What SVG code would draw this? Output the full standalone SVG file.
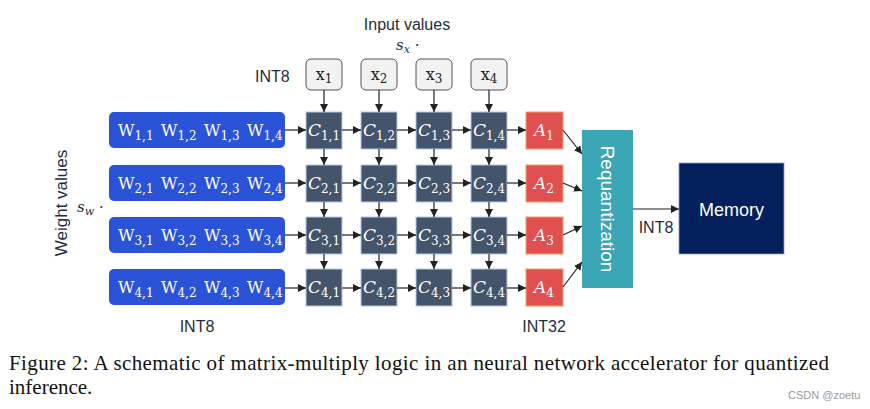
<svg xmlns="http://www.w3.org/2000/svg" width="870" height="409" viewBox="0 0 870 409">
<defs>
<marker id="ah" viewBox="0 0 8 8" refX="8" refY="4" markerWidth="8" markerHeight="8" markerUnits="userSpaceOnUse" orient="auto">
<path d="M0,0 L8,4 L0,8 z" fill="#222"/>
</marker>
<style>
.sans{font-family:"Liberation Sans","Open Sans",sans-serif;fill:#1f2d3d}
.math{font-family:"DejaVu Serif","Liberation Serif",serif;fill:#fff}
.it{font-style:italic}
.it tspan{font-style:normal}
.xbox{fill:#f2f2f2;stroke:#555;stroke-width:1}
.wbox{fill:#2a53d8}
.cbox{fill:#44546a;stroke:#b4c7e7;stroke-width:1}
.abox{fill:#e05050;stroke:#f4a060;stroke-width:1}
.conn line{stroke:#222;stroke-width:1.2;marker-end:url(#ah)}
</style>
</defs>
<rect width="870" height="409" fill="#fff"/>

<text class="sans" x="407" y="30" font-size="16" text-anchor="middle">Input values</text>
<text x="396" y="50" font-size="15" font-family="DejaVu Serif,serif" fill="#1f2d3d" font-style="italic">s<tspan dy="3" font-size="11">x</tspan><tspan dy="-3"> ·</tspan></text>
<text class="sans" x="255" y="82" font-size="16">INT8</text>
<text class="sans" x="0" y="0" font-size="17" text-anchor="middle" transform="translate(67,203) rotate(-90)">Weight values</text>
<text x="77" y="212" font-size="15" font-family="DejaVu Serif,serif" fill="#1f2d3d" font-style="italic">s<tspan dy="3" font-size="11">w</tspan><tspan dy="-3"> ·</tspan></text>
<text class="sans" x="197" y="332" font-size="16" text-anchor="middle">INT8</text>
<text class="sans" x="544" y="332" font-size="16" text-anchor="middle">INT32</text>
<text class="sans" x="656" y="233" font-size="16" text-anchor="middle">INT8</text>

<g id="x1"><rect class="xbox" x="306" y="59" width="36" height="31" rx="5"/><text x="324" y="80" font-size="16" font-family="DejaVu Serif,serif" fill="#222" text-anchor="middle">x<tspan dy="3" font-size="12">1</tspan></text></g>
<g id="x2"><rect class="xbox" x="361" y="59" width="36" height="31" rx="5"/><text x="379" y="80" font-size="16" font-family="DejaVu Serif,serif" fill="#222" text-anchor="middle">x<tspan dy="3" font-size="12">2</tspan></text></g>
<g id="x3"><rect class="xbox" x="416" y="59" width="36" height="31" rx="5"/><text x="434" y="80" font-size="16" font-family="DejaVu Serif,serif" fill="#222" text-anchor="middle">x<tspan dy="3" font-size="12">3</tspan></text></g>
<g id="x4"><rect class="xbox" x="471" y="59" width="36" height="31" rx="5"/><text x="489" y="80" font-size="16" font-family="DejaVu Serif,serif" fill="#222" text-anchor="middle">x<tspan dy="3" font-size="12">4</tspan></text></g>

<g id="w1"><rect class="wbox" x="109" y="112" width="176" height="36" rx="5"/><text class="math" y="136" font-size="16"><tspan x="118">W</tspan><tspan dy="4" font-size="12">1,1</tspan><tspan x="161" dy="-4">W</tspan><tspan dy="4" font-size="12">1,2</tspan><tspan x="204" dy="-4">W</tspan><tspan dy="4" font-size="12">1,3</tspan><tspan x="247" dy="-4">W</tspan><tspan dy="4" font-size="12">1,4</tspan></text></g>
<g id="w2"><rect class="wbox" x="109" y="165" width="176" height="36" rx="5"/><text class="math" y="189" font-size="16"><tspan x="118">W</tspan><tspan dy="4" font-size="12">2,1</tspan><tspan x="161" dy="-4">W</tspan><tspan dy="4" font-size="12">2,2</tspan><tspan x="204" dy="-4">W</tspan><tspan dy="4" font-size="12">2,3</tspan><tspan x="247" dy="-4">W</tspan><tspan dy="4" font-size="12">2,4</tspan></text></g>
<g id="w3"><rect class="wbox" x="109" y="217" width="176" height="36" rx="5"/><text class="math" y="241" font-size="16"><tspan x="118">W</tspan><tspan dy="4" font-size="12">3,1</tspan><tspan x="161" dy="-4">W</tspan><tspan dy="4" font-size="12">3,2</tspan><tspan x="204" dy="-4">W</tspan><tspan dy="4" font-size="12">3,3</tspan><tspan x="247" dy="-4">W</tspan><tspan dy="4" font-size="12">3,4</tspan></text></g>
<g id="w4"><rect class="wbox" x="109" y="269" width="176" height="36" rx="5"/><text class="math" y="293" font-size="16"><tspan x="118">W</tspan><tspan dy="4" font-size="12">4,1</tspan><tspan x="161" dy="-4">W</tspan><tspan dy="4" font-size="12">4,2</tspan><tspan x="204" dy="-4">W</tspan><tspan dy="4" font-size="12">4,3</tspan><tspan x="247" dy="-4">W</tspan><tspan dy="4" font-size="12">4,4</tspan></text></g>

<g id="c11"><rect class="cbox" x="306" y="112" width="36" height="37"/><text class="math it" x="324" y="136" font-size="17" text-anchor="middle">C<tspan dy="4" font-size="12">1,1</tspan></text></g>
<g id="c12"><rect class="cbox" x="361" y="112" width="36" height="37"/><text class="math it" x="379" y="136" font-size="17" text-anchor="middle">C<tspan dy="4" font-size="12">1,2</tspan></text></g>
<g id="c13"><rect class="cbox" x="416" y="112" width="36" height="37"/><text class="math it" x="434" y="136" font-size="17" text-anchor="middle">C<tspan dy="4" font-size="12">1,3</tspan></text></g>
<g id="c14"><rect class="cbox" x="471" y="112" width="36" height="37"/><text class="math it" x="489" y="136" font-size="17" text-anchor="middle">C<tspan dy="4" font-size="12">1,4</tspan></text></g>
<g id="c21"><rect class="cbox" x="306" y="165" width="36" height="37"/><text class="math it" x="324" y="189" font-size="17" text-anchor="middle">C<tspan dy="4" font-size="12">2,1</tspan></text></g>
<g id="c22"><rect class="cbox" x="361" y="165" width="36" height="37"/><text class="math it" x="379" y="189" font-size="17" text-anchor="middle">C<tspan dy="4" font-size="12">2,2</tspan></text></g>
<g id="c23"><rect class="cbox" x="416" y="165" width="36" height="37"/><text class="math it" x="434" y="189" font-size="17" text-anchor="middle">C<tspan dy="4" font-size="12">2,3</tspan></text></g>
<g id="c24"><rect class="cbox" x="471" y="165" width="36" height="37"/><text class="math it" x="489" y="189" font-size="17" text-anchor="middle">C<tspan dy="4" font-size="12">2,4</tspan></text></g>
<g id="c31"><rect class="cbox" x="306" y="217" width="36" height="37"/><text class="math it" x="324" y="241" font-size="17" text-anchor="middle">C<tspan dy="4" font-size="12">3,1</tspan></text></g>
<g id="c32"><rect class="cbox" x="361" y="217" width="36" height="37"/><text class="math it" x="379" y="241" font-size="17" text-anchor="middle">C<tspan dy="4" font-size="12">3,2</tspan></text></g>
<g id="c33"><rect class="cbox" x="416" y="217" width="36" height="37"/><text class="math it" x="434" y="241" font-size="17" text-anchor="middle">C<tspan dy="4" font-size="12">3,3</tspan></text></g>
<g id="c34"><rect class="cbox" x="471" y="217" width="36" height="37"/><text class="math it" x="489" y="241" font-size="17" text-anchor="middle">C<tspan dy="4" font-size="12">3,4</tspan></text></g>
<g id="c41"><rect class="cbox" x="306" y="269" width="36" height="37"/><text class="math it" x="324" y="293" font-size="17" text-anchor="middle">C<tspan dy="4" font-size="12">4,1</tspan></text></g>
<g id="c42"><rect class="cbox" x="361" y="269" width="36" height="37"/><text class="math it" x="379" y="293" font-size="17" text-anchor="middle">C<tspan dy="4" font-size="12">4,2</tspan></text></g>
<g id="c43"><rect class="cbox" x="416" y="269" width="36" height="37"/><text class="math it" x="434" y="293" font-size="17" text-anchor="middle">C<tspan dy="4" font-size="12">4,3</tspan></text></g>
<g id="c44"><rect class="cbox" x="471" y="269" width="36" height="37"/><text class="math it" x="489" y="293" font-size="17" text-anchor="middle">C<tspan dy="4" font-size="12">4,4</tspan></text></g>

<g id="a1"><rect class="abox" x="526" y="112" width="37" height="37"/><text class="math it" x="544" y="136" font-size="17" text-anchor="middle">A<tspan dy="4" font-size="12">1</tspan></text></g>
<g id="a2"><rect class="abox" x="526" y="165" width="37" height="37"/><text class="math it" x="544" y="189" font-size="17" text-anchor="middle">A<tspan dy="4" font-size="12">2</tspan></text></g>
<g id="a3"><rect class="abox" x="526" y="217" width="37" height="37"/><text class="math it" x="544" y="241" font-size="17" text-anchor="middle">A<tspan dy="4" font-size="12">3</tspan></text></g>
<g id="a4"><rect class="abox" x="526" y="269" width="37" height="37"/><text class="math it" x="544" y="293" font-size="17" text-anchor="middle">A<tspan dy="4" font-size="12">4</tspan></text></g>

<g id="requant"><rect x="582" y="130" width="51" height="158" fill="#3aa6b6"/><text x="0" y="0" font-size="19" fill="#fff" font-family="Liberation Sans,Open Sans,sans-serif" text-anchor="middle" transform="translate(601,209) rotate(90)">Requantization</text></g>
<g id="memory"><rect x="679" y="163" width="105" height="91" fill="#03205c" stroke="#8a9cc0" stroke-width="0.8"/><text x="731.5" y="216" font-size="18" fill="#fff" font-family="Liberation Sans,Open Sans,sans-serif" text-anchor="middle">Memory</text></g>

<g class="conn">
<line x1="324" y1="90" x2="324" y2="112"/><line x1="379" y1="90" x2="379" y2="112"/><line x1="434" y1="90" x2="434" y2="112"/><line x1="489" y1="90" x2="489" y2="112"/>
<line x1="324" y1="149" x2="324" y2="165"/><line x1="379" y1="149" x2="379" y2="165"/><line x1="434" y1="149" x2="434" y2="165"/><line x1="489" y1="149" x2="489" y2="165"/>
<line x1="324" y1="202" x2="324" y2="217"/><line x1="379" y1="202" x2="379" y2="217"/><line x1="434" y1="202" x2="434" y2="217"/><line x1="489" y1="202" x2="489" y2="217"/>
<line x1="324" y1="254" x2="324" y2="269"/><line x1="379" y1="254" x2="379" y2="269"/><line x1="434" y1="254" x2="434" y2="269"/><line x1="489" y1="254" x2="489" y2="269"/>
<line x1="285" y1="130" x2="306" y2="130"/><line x1="342" y1="130" x2="361" y2="130"/><line x1="397" y1="130" x2="416" y2="130"/><line x1="452" y1="130" x2="471" y2="130"/><line x1="507" y1="130" x2="526" y2="130"/>
<line x1="285" y1="183" x2="306" y2="183"/><line x1="342" y1="183" x2="361" y2="183"/><line x1="397" y1="183" x2="416" y2="183"/><line x1="452" y1="183" x2="471" y2="183"/><line x1="507" y1="183" x2="526" y2="183"/>
<line x1="285" y1="235" x2="306" y2="235"/><line x1="342" y1="235" x2="361" y2="235"/><line x1="397" y1="235" x2="416" y2="235"/><line x1="452" y1="235" x2="471" y2="235"/><line x1="507" y1="235" x2="526" y2="235"/>
<line x1="285" y1="288" x2="306" y2="288"/><line x1="342" y1="288" x2="361" y2="288"/><line x1="397" y1="288" x2="416" y2="288"/><line x1="452" y1="288" x2="471" y2="288"/><line x1="507" y1="288" x2="526" y2="288"/>
<line x1="563" y1="130" x2="582" y2="154"/><line x1="563" y1="183" x2="582" y2="191"/><line x1="563" y1="235" x2="582" y2="226"/><line x1="563" y1="287" x2="582" y2="262"/>
<line x1="633" y1="209" x2="679" y2="209"/>
</g>

<text font-family="Liberation Serif,Times New Roman,serif" font-size="21" fill="#111" x="9" y="370" textLength="820" lengthAdjust="spacing">Figure 2: A schematic of matrix-multiply logic in an neural network accelerator for quantized</text>
<text font-family="Liberation Serif,Times New Roman,serif" font-size="21" fill="#111" x="9" y="394">inference.</text>
<text font-family="Liberation Sans,sans-serif" font-size="11" fill="#999" x="788" y="399">CSDN @zoetu</text>
</svg>
